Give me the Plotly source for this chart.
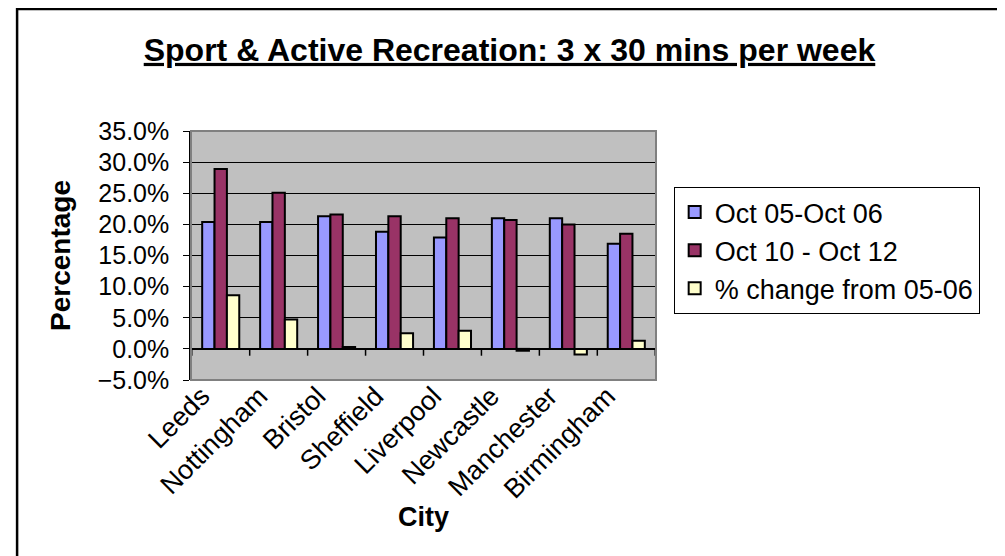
import plotly.graph_objects as go

cities = ["Leeds", "Nottingham", "Bristol", "Sheffield", "Liverpool",
          "Newcastle", "Manchester", "Birmingham"]
oct05_06 = [0.204, 0.204, 0.213, 0.188, 0.179, 0.210, 0.210, 0.169]
oct10_12 = [0.289, 0.251, 0.216, 0.213, 0.210, 0.207, 0.200, 0.185]
pct_change = [0.086, 0.047, 0.003, 0.025, 0.029, -0.003, -0.009, 0.013]

series_names = ["Oct 05-Oct 06", "Oct 10 - Oct 12", "% change from 05-06"]
series_colors = ["#9999FF", "#993366", "#FFFFCC"]
y_ticks = [-0.05, 0.0, 0.05, 0.10, 0.15, 0.20, 0.25, 0.30, 0.35]

FONT = "Liberation Sans, Arial, sans-serif"

fig = go.Figure()
for name, vals, col in zip(series_names, [oct05_06, oct10_12, pct_change], series_colors):
    fig.add_trace(go.Bar(
        x=cities, y=vals, name=name, legendgroup=name,
        marker=dict(color=col, line=dict(color="black", width=2)),
    ))

# category-axis tick marks sitting on the zero line, between categories
n = len(cities)
shapes = []
for k in range(n + 1):
    shapes.append(dict(type="line", xref="x", yref="y",
                       x0=k - 0.5, x1=k - 0.5, y0=0, y1=-0.011,
                       line=dict(color="black", width=1.5)))
# plot-area border
shapes.append(dict(type="rect", xref="paper", yref="paper", x0=0, x1=1, y0=0, y1=1,
                   line=dict(color="#808080", width=2), layer="above"))
# outer chart border
shapes.append(dict(type="rect", xref="paper", yref="paper",
                   x0=-0.374, x1=1.7376, y0=-0.727, y1=1.49,
                   line=dict(color="black", width=2.5)))

fig.update_layout(
    width=1005, height=556,
    margin=dict(l=183, r=357, t=123, b=184),
    paper_bgcolor="white", plot_bgcolor="#C0C0C0",
    font=dict(family=FONT, size=25, color="black"),
    title=dict(text="<b>Sport & Active Recreation: 3 x 30 mins per week</b>",
               font=dict(family=FONT, size=32, color="black", lineposition="under"),
               x=0.499, xref="container", xanchor="center",
               y=0.925, yref="container", yanchor="middle"),
    barmode="group", bargap=0.36, bargroupgap=0,
    showlegend=True,
    legend=dict(x=1.038, y=0.775, xanchor="left", yanchor="top",
                bordercolor="black", borderwidth=1, bgcolor="white",
                font=dict(family=FONT, size=27, color="black"),
                tracegroupgap=17, traceorder="normal"),
    shapes=shapes,
)
fig.update_xaxes(
    type="category", tickangle=-45, showgrid=False, ticks="",
    tickfont=dict(family=FONT, size=27), automargin=False,
    ticklabelshift=-19, ticklabelstandoff=-6,
    title=dict(text="<b>City</b>", font=dict(family=FONT, size=27), standoff=0),
)
fig.update_yaxes(
    range=[-0.05, 0.35], tickvals=y_ticks, tickformat=".1%",
    showgrid=True, gridcolor="black", gridwidth=1,
    zeroline=True, zerolinecolor="black", zerolinewidth=1.5,
    showline=True, linecolor="black", linewidth=1.5,
    ticks="outside", ticklen=6, tickcolor="black", ticklabelstandoff=9,
    tickfont=dict(family=FONT, size=25), automargin=False,
    title=dict(text="<b>Percentage</b>", font=dict(family=FONT, size=28), standoff=19),
)

fig.write_html("out.html")
